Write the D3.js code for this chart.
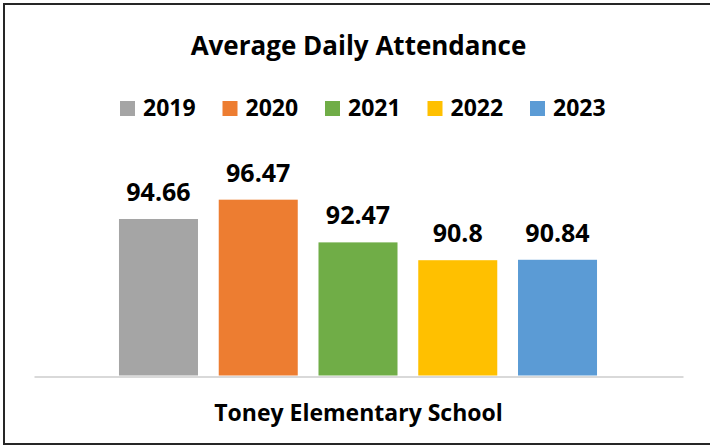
<!DOCTYPE html>
<html>
<head>
<meta charset="utf-8">
<script src="https://cdn.jsdelivr.net/npm/d3@7"></script>
<style>
  body { margin: 0; background: #fff; }
  text { font-family: "Open Sans", sans-serif; font-weight: bold; fill: #000; }
</style>
</head>
<body>
<div id="chart"></div>
<script>
// Data
const years = ["2019", "2020", "2021", "2022", "2023"];
const attendance = [94.66, 96.47, 92.47, 90.8, 90.84];
const colors = ["#a5a5a5", "#ed7d31", "#70ad47", "#ffc000", "#5b9bd5"];
const chartTitle = "Average Daily Attendance";
const axisTitle = "Toney Elementary School";

const w = 710, h = 446;
const baseY = 375.5;

const svg = d3.select("#chart").append("svg")
    .attr("width", w)
    .attr("height", h);

// Frame
svg.append("rect")
    .attr("x", 4)
    .attr("y", 4)
    .attr("width", 712)
    .attr("height", 440)
    .attr("fill", "#fff")
    .attr("stroke", "#262626")
    .attr("stroke-width", 2);

// Scales
const x = d3.scaleBand()
    .domain(years)
    .range([108.6, 607.4])
    .paddingInner(0.208)
    .paddingOuter(0.104);

const y = d3.scaleLinear()
    .domain([80, 100])
    .range([baseY, 162]);

// Bars
svg.selectAll("rect.bar")
    .data(years)
    .enter()
    .append("rect")
    .attr("class", "bar")
    .attr("x", d => x(d))
    .attr("y", (d, i) => y(attendance[i]))
    .attr("width", x.bandwidth())
    .attr("height", (d, i) => baseY - y(attendance[i]))
    .attr("fill", (d, i) => colors[i]);

// Value labels
svg.selectAll("text.val")
    .data(years)
    .enter()
    .append("text")
    .attr("class", "val")
    .attr("x", d => x(d) + x.bandwidth() / 2)
    .attr("y", (d, i) => y(attendance[i]) - 18)
    .attr("text-anchor", "middle")
    .style("font-size", "25px")
    .text((d, i) => attendance[i]);

// X axis line (no ticks)
const axisX = d3.scaleLinear().domain([0, 1]).range([34, 683]);
svg.append("g")
    .attr("transform", `translate(0, ${baseY + 1})`)
    .call(d3.axisBottom(axisX).ticks(0).tickSize(0).tickFormat(""))
    .call(g => g.select(".domain").attr("stroke", "#d9d9d9").attr("stroke-width", 2));

// Title
svg.append("text")
    .attr("x", 358.5)
    .attr("y", 55)
    .attr("text-anchor", "middle")
    .style("font-size", "26px")
    .text(chartTitle);

// Legend
const legend = svg.selectAll("g.leg")
    .data(years)
    .enter()
    .append("g")
    .attr("class", "leg")
    .attr("transform", (d, i) => `translate(${120 + i * 102.5}, 101)`);

legend.append("rect")
    .attr("width", 15)
    .attr("height", 15)
    .attr("fill", (d, i) => colors[i]);

legend.append("text")
    .attr("x", 23)
    .attr("y", 15)
    .style("font-size", "23px")
    .text(d => d);

// Axis title
svg.append("text")
    .attr("x", 358.5)
    .attr("y", 421)
    .attr("text-anchor", "middle")
    .style("font-size", "23px")
    .text(axisTitle);
</script>
</body>
</html>
